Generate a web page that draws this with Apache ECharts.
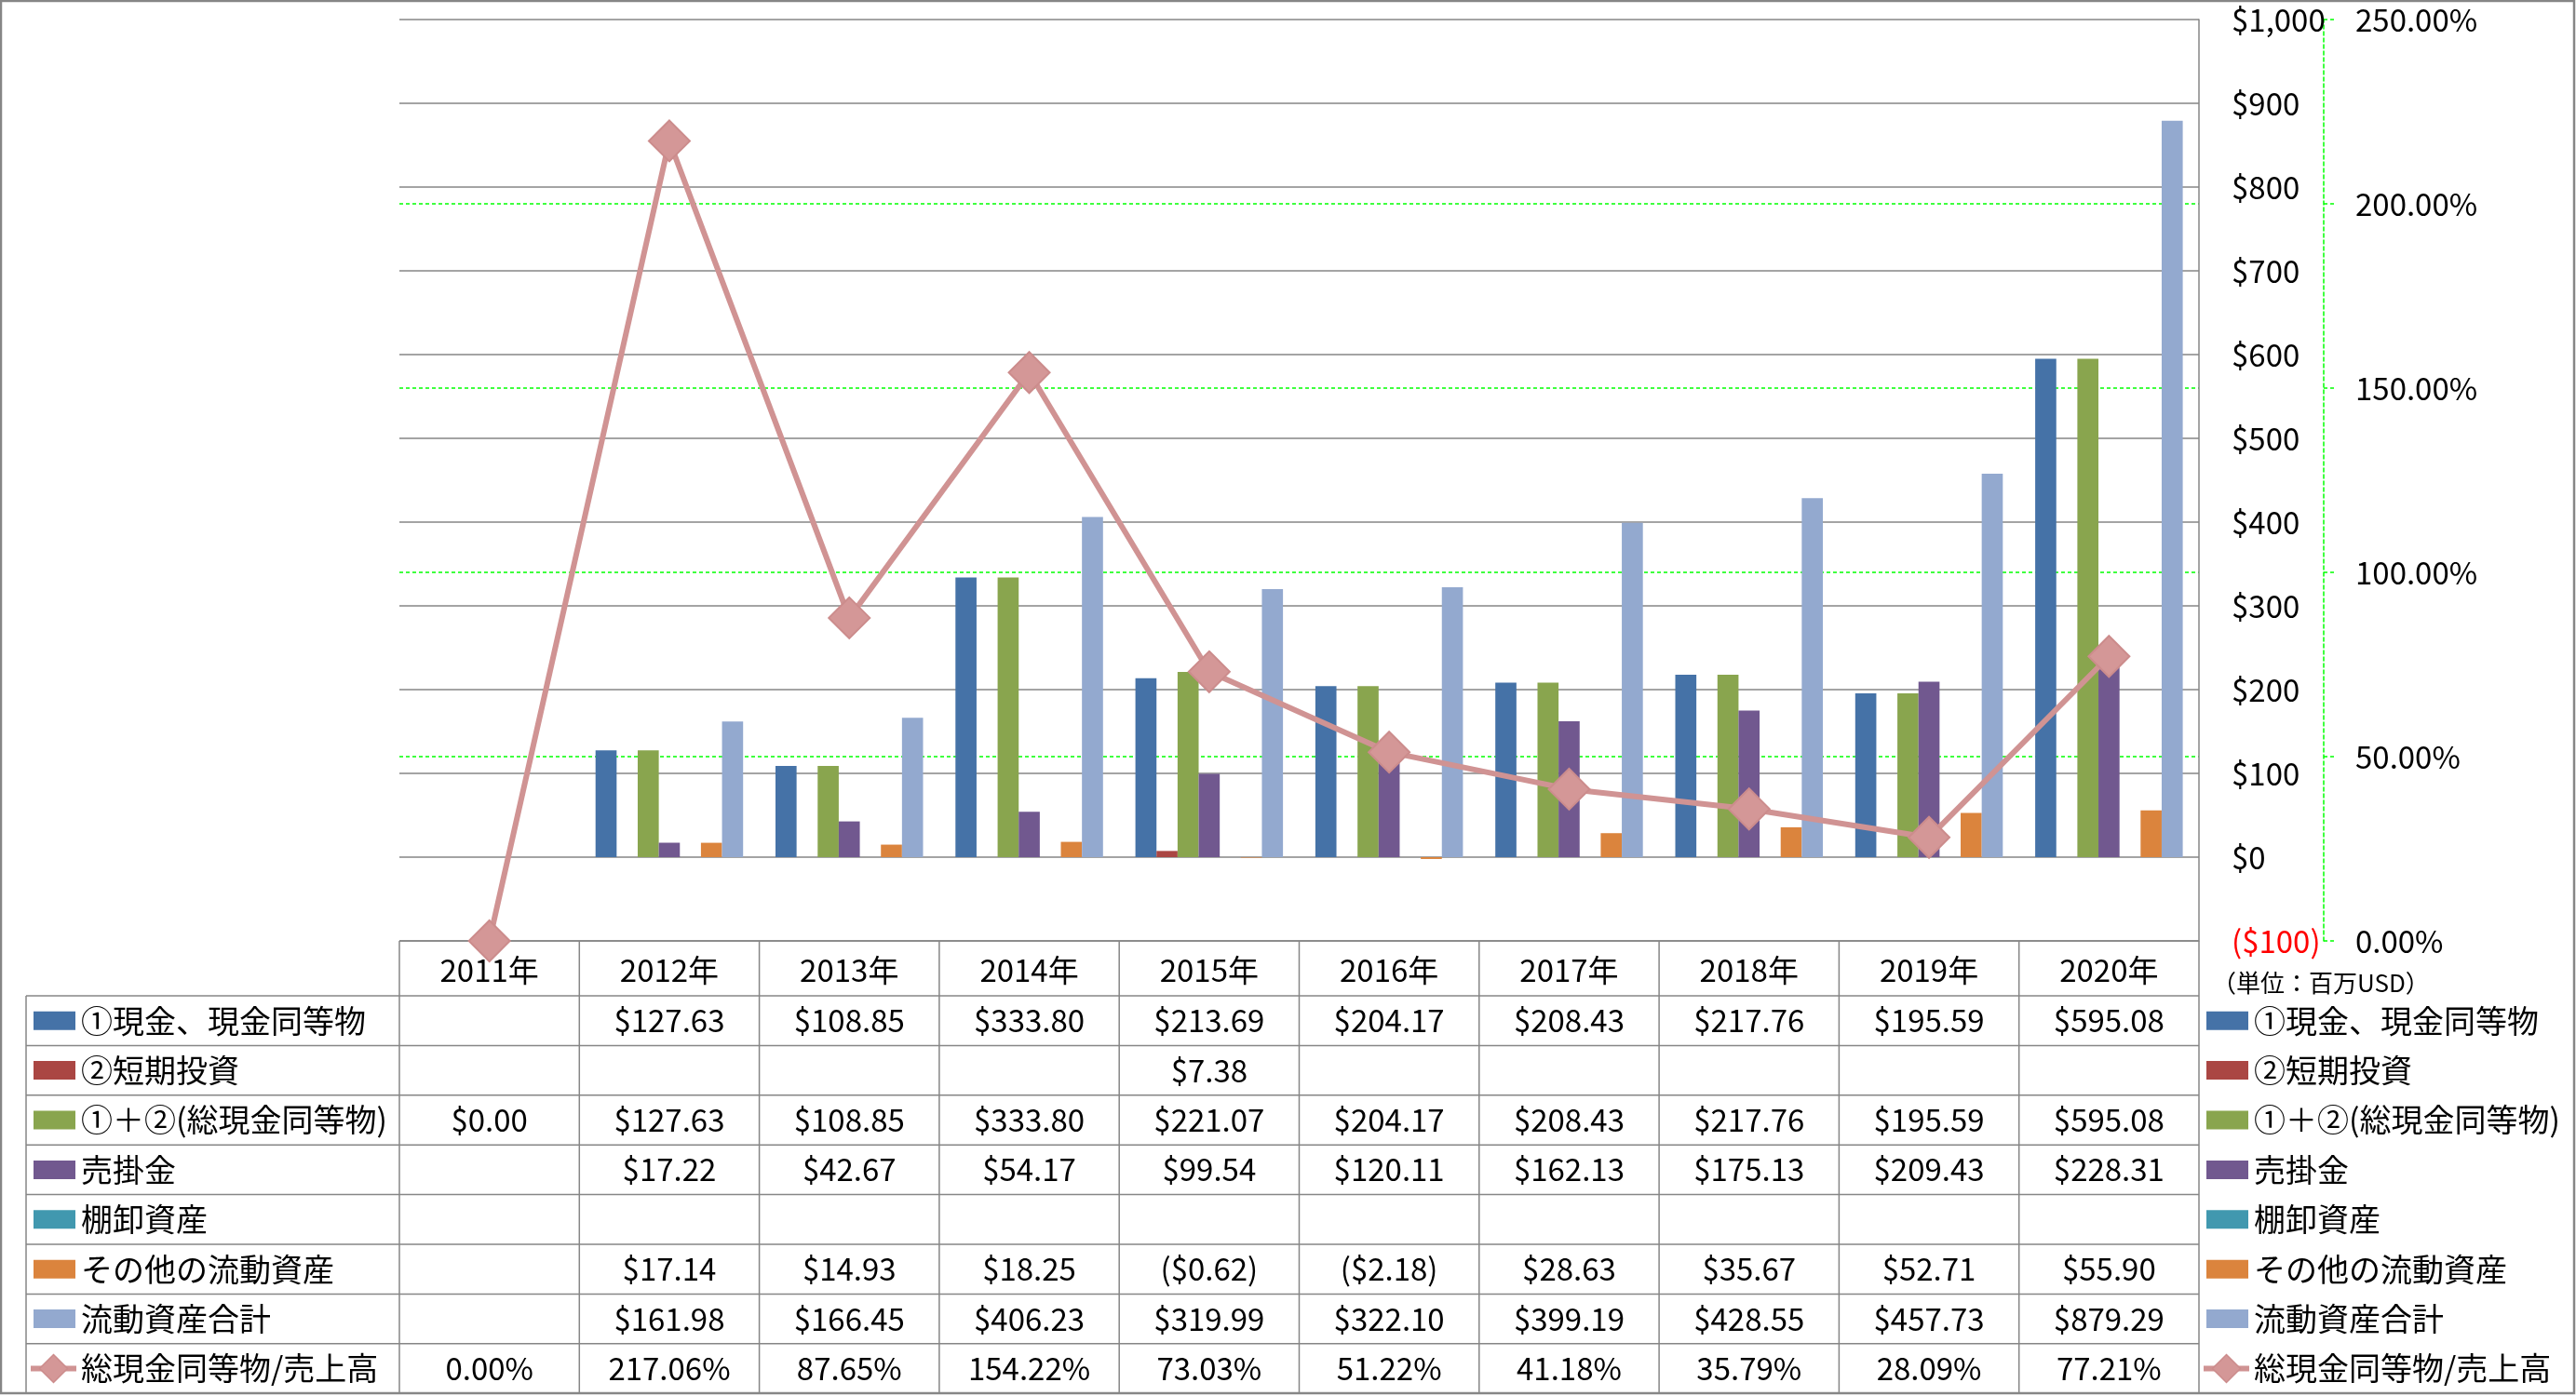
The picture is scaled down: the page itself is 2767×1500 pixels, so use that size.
<!DOCTYPE html>
<html><head><meta charset="utf-8">
<script src="https://cdn.jsdelivr.net/npm/echarts@6/dist/echarts.min.js"></script>
<style>html,body{margin:0;padding:0;background:#fff}#c{width:2767px;height:1500px}</style>
</head><body><div id="c"></div>
<script>
// ---------- data ----------
const years = ['2011年','2012年','2013年','2014年','2015年','2016年','2017年','2018年','2019年','2020年'];
const cash         = [null,127.63,108.85,333.80,213.69,204.17,208.43,217.76,195.59,595.08];
const shortInv     = [null,null,null,null,7.38,null,null,null,null,null];
const totalCash    = [0.00,127.63,108.85,333.80,221.07,204.17,208.43,217.76,195.59,595.08];
const receivables  = [null,17.22,42.67,54.17,99.54,120.11,162.13,175.13,209.43,228.31];
const inventory    = [null,null,null,null,null,null,null,null,null,null];
const otherCurrent = [null,17.14,14.93,18.25,-0.62,-2.18,28.63,35.67,52.71,55.90];
const totalCurrent = [null,161.98,166.45,406.23,319.99,322.10,399.19,428.55,457.73,879.29];
const cashToSales  = [0.00,217.06,87.65,154.22,73.03,51.22,41.18,35.79,28.09,77.21];
const seriesNames  = ['①現金、現金同等物','②短期投資','①＋②(総現金同等物)','売掛金','棚卸資産','その他の流動資産','流動資産合計','総現金同等物/売上高'];
const unitLabel = '（単位：百万USD）';

// ---------- styles ----------
const FONT = '"Noto Sans CJK JP","Noto Sans",sans-serif';
const FS = 33;      // numbers
const FSJ = 34;     // Japanese labels
const colors = ['#4572A7','#AA4643','#89A54E','#71588F','#4198AF','#DB843D','#93A9CF'];
const lineColor = '#D09393';
const gray = '#868686';
const green = '#00FF00';

// layout
const W = 2767, H = 1500;
const GL = 429, GR = 2362, GT = 21, GB = 1011;
const colW = (GR - GL) / years.length;
const rowTop = 1070, rowH = 53.4, tableLeft = 28;
const tableBottom = rowTop + rowH * 8;

const barData = [cash, shortInv, totalCash, receivables, inventory, otherCurrent, totalCurrent];

function money(v){
  const a = Math.abs(v).toFixed(2);
  return v < 0 ? '($' + a + ')' : '$' + a;
}
function withComma(n){ return String(n).replace(/\B(?=(\d{3})+(?!\d))/g, ','); }

const chart = echarts.init(document.getElementById('c'), null, {renderer:'canvas'});

const series = barData.map((d, i) => ({
  name: seriesNames[i], type: 'bar', data: d, yAxisIndex: 0,
  barGap: '0%', barCategoryGap: '18%',
  itemStyle: {color: colors[i]}, z: 3
}));
series.push({
  name: seriesNames[7], type: 'line', data: cashToSales, yAxisIndex: 1,
  symbol: 'diamond', symbolSize: 44, clip: false, z: 10,
  lineStyle: {color: lineColor, width: 6},
  itemStyle: {color: '#D49797', borderColor: '#CC8C8C', borderWidth: 2}
});

// ---------- table & legends (graphic) ----------
const g = [];
const lineSt = {stroke: gray, lineWidth: 1.5};
g.push({type:'rect', shape:{x:1,y:1,width:W-3,height:1496}, style:{fill:'none', stroke:gray, lineWidth:2.5}, z:1, silent:true});
g.push({type:'line', shape:{x1:GL,y1:GB,x2:GR,y2:GB}, style:lineSt, z:1});
for (let r = 0; r <= 8; r++) {
  const y = rowTop + r * rowH;
  g.push({type:'line', shape:{x1:tableLeft,y1:y,x2:GR,y2:y}, style:lineSt, z:1});
}
for (let c = 0; c <= years.length; c++) {
  const x = GL + c * colW;
  g.push({type:'line', shape:{x1:x,y1:GB,x2:x,y2:tableBottom}, style:lineSt, z:1});
}
g.push({type:'line', shape:{x1:tableLeft,y1:rowTop,x2:tableLeft,y2:tableBottom}, style:lineSt, z:1});

const rowsData = [cash, shortInv, totalCash, receivables, inventory, otherCurrent, totalCurrent];
rowsData.forEach((arr, r) => {
  arr.forEach((v, c) => {
    if (v === null || v === undefined) return;
    g.push({type:'text', z:1, style:{text: money(v), x: GL + (c + 0.5) * colW, y: rowTop + (r + 0.5) * rowH,
      font: FS + 'px ' + FONT, fill:'#000', textAlign:'center', textVerticalAlign:'middle'}});
  });
});
cashToSales.forEach((v, c) => {
  g.push({type:'text', z:1, style:{text: v.toFixed(2) + '%', x: GL + (c + 0.5) * colW, y: rowTop + 7.5 * rowH,
    font: FS + 'px ' + FONT, fill:'#000', textAlign:'center', textVerticalAlign:'middle'}});
});

function legendKey(x0, r){
  const cy = rowTop + (r + 0.5) * rowH;
  if (r < 7) {
    g.push({type:'rect', z:2, shape:{x:x0, y:cy - 10, width:45, height:20}, style:{fill: colors[r]}});
  } else {
    g.push({type:'line', z:2, shape:{x1:x0 - 3, y1:cy, x2:x0 + 46, y2:cy}, style:{stroke: lineColor, lineWidth:6}});
    const cx = x0 + 21.5;
    g.push({type:'polygon', z:3, shape:{points:[[cx, cy - 15],[cx + 15, cy],[cx, cy + 15],[cx - 15, cy]]}, style:{fill:'#D49797', stroke:'#CC8C8C', lineWidth:1.5}});
  }
  g.push({type:'text', z:2, style:{text: seriesNames[r], x: x0 + 51, y: cy, font: FSJ + 'px ' + FONT, fill:'#000', textAlign:'left', textVerticalAlign:'middle'}});
}
for (let r = 0; r < 8; r++) { legendKey(36, r); legendKey(2370, r); }

g.push({type:'text', z:2, style:{text: unitLabel, x: 2376, y: 1056, font: '26px ' + FONT, fill:'#000', textAlign:'left', textVerticalAlign:'middle'}});

chart.setOption({
  backgroundColor: '#fff',
  animation: false,
  textStyle: {fontFamily: FONT},
  grid: {left: GL, right: W - GR, top: GT, bottom: H - GB, containLabel: false},
  xAxis: {
    type: 'category', data: years,
    axisLine: {show: false}, axisTick: {show: false},
    axisLabel: {fontSize: FS, fontFamily: FONT, color: '#000', margin: 31, verticalAlign: 'middle'},
    splitLine: {show: false}
  },
  yAxis: [
    {
      type: 'value', position: 'right', min: -100, max: 1000, interval: 100,
      axisLine: {show: true, lineStyle: {color: gray, width: 1.5}},
      axisTick: {show: false},
      axisLabel: {
        fontSize: FS, fontFamily: FONT, margin: 35,
        formatter: v => v < 0 ? '($' + withComma(-v) + ')' : '$' + withComma(v),
        color: v => (parseFloat(v) < 0 ? '#FF0000' : '#000')
      },
      splitLine: {show: true, lineStyle: {color: gray, width: 1.5}}
    },
    {
      type: 'value', position: 'right', offset: 134, min: 0, max: 250, interval: 50,
      axisLine: {show: true, lineStyle: {color: green, width: 1.5, type: [4, 3]}},
      axisTick: {show: true, inside: false, length: 11, lineStyle: {color: green, width: 1.5, type: [4, 3]}},
      axisLabel: {fontSize: FS, fontFamily: FONT, color: '#000', margin: 34, formatter: v => v.toFixed(2) + '%'},
      splitLine: {show: true, showMinLine: false, showMaxLine: false, lineStyle: {color: green, width: 1.5, type: [4, 3]}}
    }
  ],
  series: series,
  graphic: {elements: g}
});
</script></body></html>
